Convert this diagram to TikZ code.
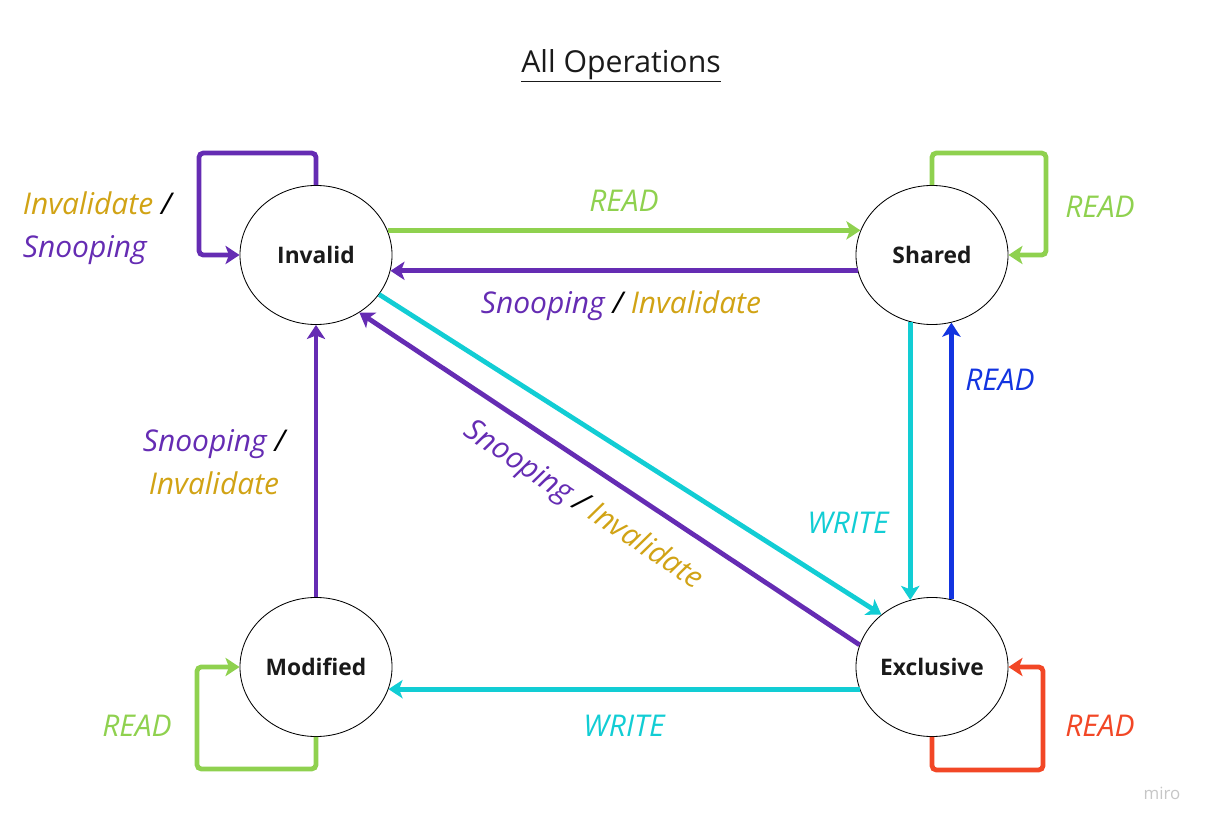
\documentclass[tikz,border=0pt]{standalone}
\usepackage{fontspec}
\setmainfont{Open Sans}
\usetikzlibrary{arrows.meta,shapes.geometric}
\definecolor{snoop}{HTML}{652CB3}
\definecolor{inval}{HTML}{D1A315}
\definecolor{readg}{HTML}{8FD14F}
\definecolor{writec}{HTML}{12CDD4}
\definecolor{readb}{HTML}{1234E0}
\definecolor{readr}{HTML}{F24726}
\definecolor{ink}{HTML}{1A1A1A}
\newcommand{\snp}{{\color{snoop}Snooping}}
\newcommand{\inv}{{\color{inval}Invalidate}}

\begin{document}
\begin{tikzpicture}[x=0.025cm,y=-0.025cm,
  state/.style={draw,ellipse,line width=0.6pt,minimum width=3.8cm,minimum height=3.475cm,inner sep=0pt,text=ink,font=\fontsize{16.2}{19}\selectfont\bfseries},
  edge/.style={line width=3.4pt,rounded corners=3pt,-{Stealth[length=10pt,width=13pt,inset=2.5pt]}},
  lbl/.style={font=\fontsize{21.3}{30.5}\selectfont\itshape}]
\useasboundingbox (0,0) rectangle (1209,826);

\node[text=ink,font=\fontsize{21.5}{25}\selectfont] (title) at (621,66) {\underline{All Operations}};

% the four states
\node[state] (inv) at (316,255) {Invalid};
\node[state] (sh) at (932,255) {Shared};
\node[state] (mod) at (316,667) {Modified};
\node[state] (ex) at (932,667) {Exclusive};

% transitions between states
\draw[edge,readg] (inv.19) -- (sh.161);
\draw[edge,snoop] (sh.-168) -- (inv.-12);
\draw[edge,writec] (inv.-32) -- (ex.134.5);
\draw[edge,snoop] (ex.163.4) -- (inv.-53);
\draw[edge,writec] (sh.-108.2) -- (ex.108.2);
\draw[edge,readb] (ex.74.3) -- (sh.-74.3);
\draw[edge,writec] (ex.-163) -- (mod.-17);
\draw[edge,snoop] (mod.north) -- (inv.south);

% self loops
\draw[edge,snoop] (inv.north) -- ++(0,-32) -- ++(-117,0) |- (inv.west);
\draw[edge,readg] (sh.north) -- ++(0,-32) -- ++(114,0) |- (sh.east);
\draw[edge,readg] (mod.south) -- ++(0,32) -- ++(-119,0) |- (mod.west);
\draw[edge,readr] (ex.south) -- ++(0,33) -- ++(111,0) |- (ex.east);

% labels
\node[lbl,readg] (l1) at (624,201) {READ};
\node[lbl] (l2) at (621,306) {\snp{} / \inv};
\node[lbl,rotate=-33.6] (l3) at (583,506) {\snp{} / \inv};
\node[lbl,writec] (l4) at (848,523) {WRITE};
\node[lbl,readb] (l5) at (1000,380) {READ};
\node[lbl,writec] (l6) at (624,726) {WRITE};
\node[lbl,readg] (l7) at (137,726) {READ};
\node[lbl,readg] (l8) at (1100,207) {READ};
\node[lbl,readr] (l9) at (1100,726) {READ};
\node[lbl,align=left,anchor=west] (l10) at (18,228) {\inv{} /\\\snp};
\node[lbl,align=center] (l11) at (214,462) {\snp{} /\\\inv};

\node[text=gray!45,font=\fontsize{12}{14}\selectfont] (miro) at (1162,793) {miro};
\end{tikzpicture}
\end{document}
